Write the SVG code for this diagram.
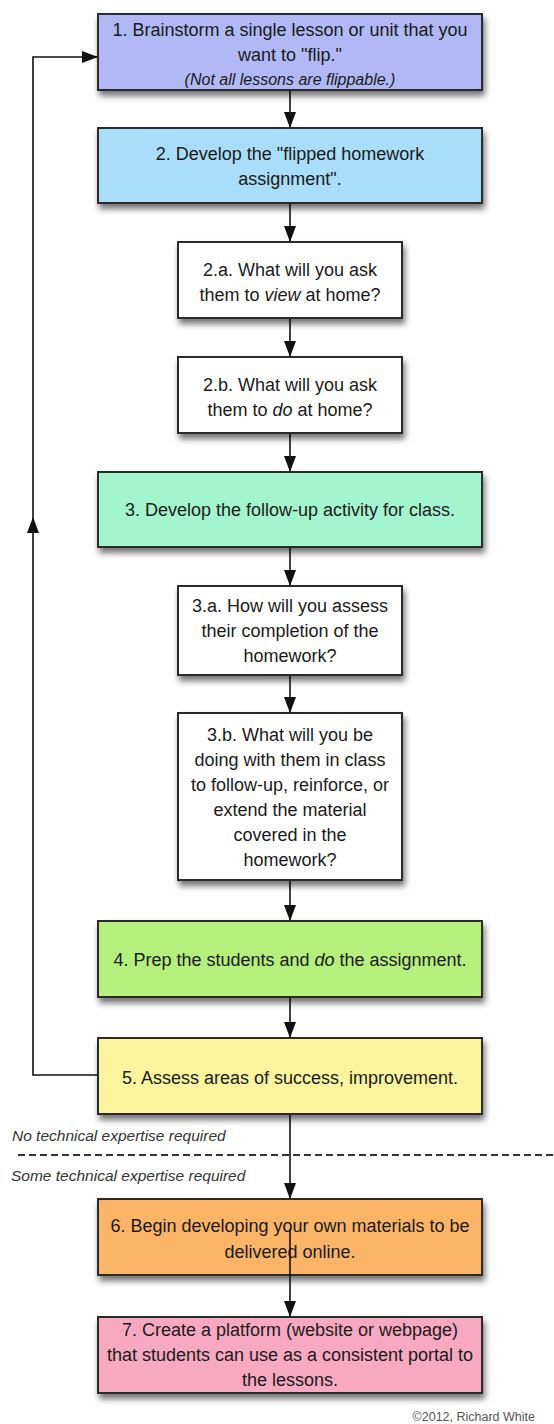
<svg xmlns="http://www.w3.org/2000/svg" width="554" height="1424" viewBox="0 0 554 1424">
<style>
.box{stroke:#2b2b2b;stroke-width:2;filter:url(#sh)}
.t{font-family:"Liberation Sans",Arial,sans-serif;font-size:18px;fill:#1a1a1a;text-anchor:middle}
.i{font-style:italic}
.note{font-family:"Liberation Sans",Arial,sans-serif;font-size:15.5px;font-style:italic;fill:#333}
.c{fill:none;stroke:#111;stroke-width:1.6}
</style>
<defs>
<filter id="sh" x="-10%" y="-20%" width="125%" height="160%">
<feDropShadow dx="2" dy="5" stdDeviation="3" flood-color="#000" flood-opacity="0.55"/>
</filter>
<marker id="ah" markerUnits="userSpaceOnUse" markerWidth="16" markerHeight="12" refX="16" refY="6" orient="auto">
<path d="M0,0 L16,6 L0,12 z" fill="#111"/>
</marker>
</defs>
<rect width="554" height="1424" fill="#fff"/>

<g id="connectors">
<path class="c" d="M290,90 V128" marker-end="url(#ah)"/>
<path class="c" d="M290,203 V242" marker-end="url(#ah)"/>
<path class="c" d="M290,318 V357" marker-end="url(#ah)"/>
<path class="c" d="M290,433 V472" marker-end="url(#ah)"/>
<path class="c" d="M290,547 V586" marker-end="url(#ah)"/>
<path class="c" d="M290,675 V713" marker-end="url(#ah)"/>
<path class="c" d="M290,880 V921" marker-end="url(#ah)"/>
<path class="c" d="M290,997 V1038" marker-end="url(#ah)"/>
<path class="c" d="M290,1114 V1199" marker-end="url(#ah)"/>
<path class="c" d="M98,1075 H33 V517" marker-end="url(#ah)"/>
<path class="c" d="M33,517 V57 H98" marker-end="url(#ah)"/>
</g>

<g id="divider">
<line x1="18" y1="1155" x2="554" y2="1155" stroke="#333" stroke-width="2" stroke-dasharray="7 4"/>
<text class="note" x="12" y="1141">No technical expertise required</text>
<text class="note" x="11" y="1181">Some technical expertise required</text>
</g>

<g id="n1">
<rect class="box" x="98" y="14" width="384" height="76" fill="#b0b8f6"/>
<text class="t" x="290" y="36">1. Brainstorm a single lesson or unit that you</text>
<text class="t" x="290" y="61">want to "flip."</text>
<text class="t i" x="290" y="85" style="font-size:16px">(Not all lessons are flippable.)</text>
</g>

<g id="n2">
<rect class="box" x="98" y="128" width="384" height="75" fill="#a8def7"/>
<text class="t" x="290" y="160">2. Develop the "flipped homework</text>
<text class="t" x="290" y="185">assignment".</text>
</g>

<g id="n2a">
<rect class="box" x="178" y="242" width="224" height="76" fill="#ffffff"/>
<text class="t" x="290" y="276">2.a. What will you ask</text>
<text class="t" x="290" y="301">them to <tspan class="i">view</tspan> at home?</text>
</g>

<g id="n2b">
<rect class="box" x="178" y="357" width="224" height="76" fill="#ffffff"/>
<text class="t" x="290" y="391">2.b. What will you ask</text>
<text class="t" x="290" y="416">them to <tspan class="i">do</tspan> at home?</text>
</g>

<g id="n3">
<rect class="box" x="98" y="472" width="384" height="75" fill="#a2f5cf"/>
<text class="t" x="290" y="516">3. Develop the follow-up activity for class.</text>
</g>

<g id="n3a">
<rect class="box" x="178" y="586" width="224" height="89" fill="#ffffff"/>
<text class="t" x="290" y="612">3.a. How will you assess</text>
<text class="t" x="290" y="637">their completion of the</text>
<text class="t" x="290" y="662">homework?</text>
</g>

<g id="n3b">
<rect class="box" x="178" y="713" width="224" height="167" fill="#ffffff"/>
<text class="t" x="290" y="741">3.b. What will you be</text>
<text class="t" x="290" y="766">doing with them in class</text>
<text class="t" x="290" y="791">to follow-up, reinforce, or</text>
<text class="t" x="290" y="816">extend the material</text>
<text class="t" x="290" y="841">covered in the</text>
<text class="t" x="290" y="866">homework?</text>
</g>

<g id="n4">
<rect class="box" x="98" y="921" width="384" height="76" fill="#b5ef7c"/>
<text class="t" x="290" y="966">4. Prep the students and <tspan class="i">do</tspan> the assignment.</text>
</g>

<g id="n5">
<rect class="box" x="98" y="1038" width="384" height="76" fill="#fdf59d"/>
<text class="t" x="290" y="1084">5. Assess areas of success, improvement.</text>
</g>

<g id="n6">
<rect class="box" x="98" y="1199" width="384" height="76" fill="#fcb566"/>
<text class="t" x="290" y="1232">6. Begin developing your own materials to be</text>
<text class="t" x="290" y="1258">delivered online.</text>
</g>

<g id="n7">
<rect class="box" x="98" y="1317" width="384" height="76" fill="#f7a9c1"/>
<text class="t" x="290" y="1336">7. Create a platform (website or webpage)</text>
<text class="t" x="290" y="1361">that students can use as a consistent portal to</text>
<text class="t" x="290" y="1386">the lessons.</text>
</g>

<g id="overlay">
<path class="c" d="M290,1229 V1317" marker-end="url(#ah)"/>
</g>

<text x="535" y="1421" font-family="Liberation Sans, Arial, sans-serif" font-size="12.5" fill="#555" text-anchor="end">©2012, Richard White</text>
</svg>
